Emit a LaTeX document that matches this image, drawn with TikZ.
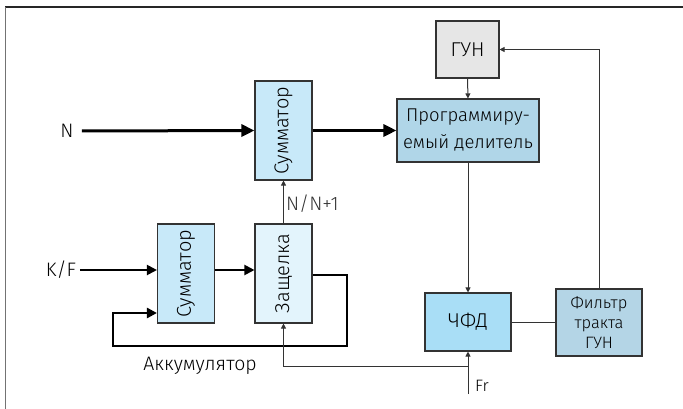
\documentclass[tikz,border=0pt]{standalone}
\usepackage{fontspec}
\setmainfont{Fira Sans}[UprightFont=* Light]
\usepackage{graphicx}
\usepackage{tikz}
\usetikzlibrary{arrows.meta,positioning,calc}

\definecolor{sumblue}{HTML}{C8E9F9}
\definecolor{latchblue}{HTML}{E3F4FC}
\definecolor{divblue}{HTML}{B0D6E8}
\definecolor{pfdblue}{HTML}{A9DEF6}
\definecolor{filtblue}{HTML}{B4D5E6}
\definecolor{vcogray}{HTML}{E6E6E6}
\definecolor{edge}{HTML}{333333}

\begin{document}
\begin{tikzpicture}[x=1pt,y=-1pt,
  block/.style={rectangle,draw=edge,line width=1.1pt,inner sep=0pt,align=center,
                font=\fontsize{20}{26}\selectfont},
  sumbox/.style={block,fill=sumblue,minimum width=57pt,minimum height=99pt},
  lbl/.style={inner sep=2pt,font=\fontsize{19.5}{22}\selectfont},
  bus/.style={draw,line width=3pt,-{Triangle[length=13pt,width=12pt]}},
  mid/.style={draw,line width=2pt,-{Triangle[length=10pt,width=10pt]}},
  acc/.style={draw,line width=2.5pt,-{Triangle[length=10pt,width=10pt]}},
  line/.style={draw,line width=1pt,edge,-{Triangle[length=5pt,width=5pt]}},
  wire/.style={draw,line width=1pt,edge}]
\useasboundingbox (0,0) rectangle (683,409);
% frame of the figure
\draw[line width=2pt,black!85] (5,7) -- (683,7);
\draw[line width=1.5pt,black!55] (5.5,7) -- (5.5,409);
% blocks
\node[sumbox] (sumA) at (283.5,130.5) {\rotatebox{90}{Сумматор}};
\node[sumbox] (sumB) at (186,273.5) {\rotatebox{90}{Сумматор}};
\node[sumbox,fill=latchblue] (latch) at (283.5,273.5) {\rotatebox{90}{Защелка}};
\node[block,fill=divblue,minimum width=142pt,minimum height=63pt,
      font=\fontsize{18.5}{27}\selectfont] (div) at (468,130.5)
  {Программиру-\\емый делитель};
\node[block,fill=vcogray,minimum width=63pt,minimum height=57pt] (vco) at (467.5,49.5) {ГУН};
\node[block,fill=pfdblue,minimum width=86pt,minimum height=58pt] (pfd) at (468,322) {ЧФД};
\node[block,fill=filtblue,minimum width=86pt,minimum height=67pt,
      font=\fontsize{16.5}{20}\selectfont] (filt) at (599,322.5) {Фильтр\\тракта\\ГУН};
% inputs and labels
\node[lbl] (nIn) at (67,131) {N};
\node[lbl] (kIn) at (61,270) {K/F};
\node[lbl] (accu) at (200,366) {Аккумулятор};
\node[lbl,font=\fontsize{16.5}{20}\selectfont] (frLbl) at (482,386) {Fr};
\coordinate (frIn) at (468,394);
\coordinate (clk) at (468,366);
\coordinate (accR) at (347,346);
\coordinate (accL) at (113,346);
% connectors
\path[bus] ([xshift=6pt]nIn.east) -- (sumA.west);
\path[bus] (sumA.east) -- (div.west);
\path[mid] ([xshift=2pt]kIn.east) -- (kIn.east -| sumB.west);
\path[mid] (sumB.east |- kIn.east) -- (latch.west |- kIn.east);
\path[acc] ([yshift=-1.5pt]latch.east) -| (accR) -- (accL) |- ([yshift=-39.5pt]sumB.west);
\path[line] (latch.north) -- node[lbl,right,pos=0.45]{N/N+1} (sumA.south);
\path[line] (vco.south) -- (div.north);
\path[line] (div.south) -- (pfd.north);
\path[line] (frIn) -- (pfd.south);
\path[line] (clk) -| (latch.south);
\path[wire] (pfd.east) -- (pfd.east -| filt.west);
\path[line] (filt.north) |- (vco.east);
\end{tikzpicture}
\end{document}
